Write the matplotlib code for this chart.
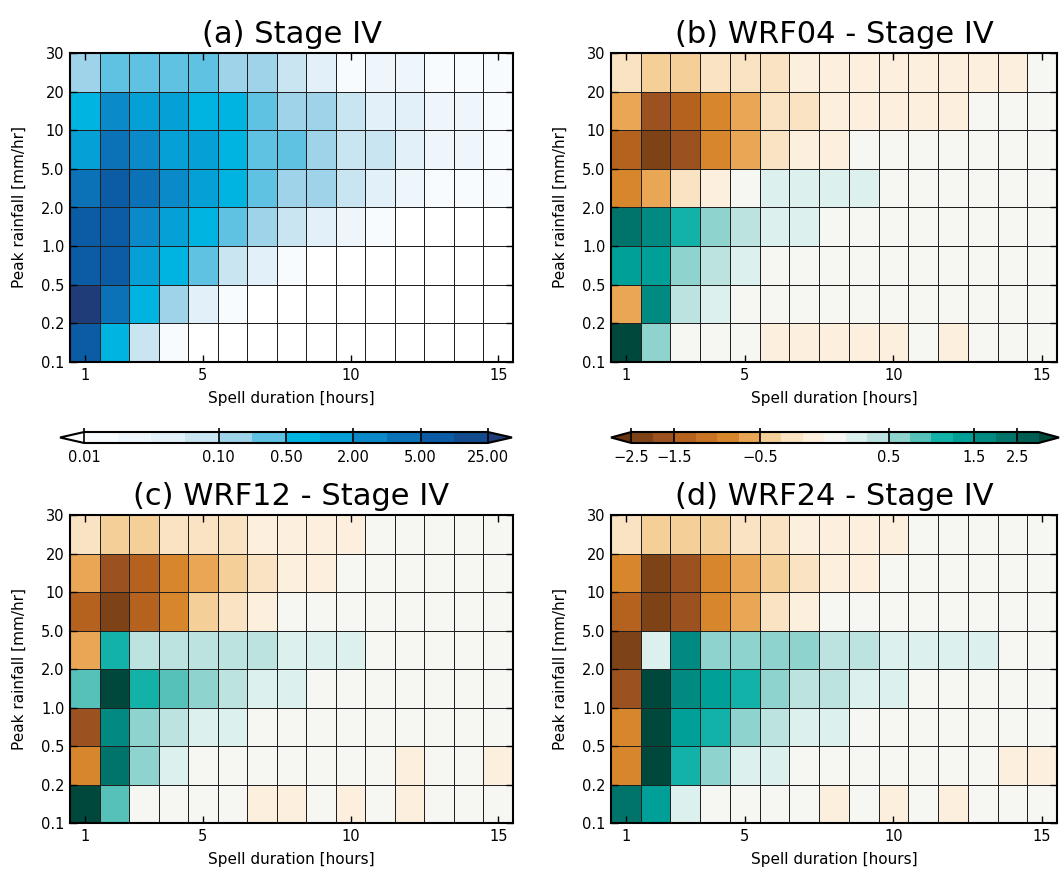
import numpy as np
import matplotlib
matplotlib.use('Agg')
import matplotlib.pyplot as plt
from matplotlib.colors import ListedColormap, BoundaryNorm

durations = np.arange(1, 16)
rain_edges = ['0.1', '0.2', '0.5', '1.0', '2.0', '5.0', '10', '20', '30']

# rows go from top (20-30 mm/hr) down to bottom (0.1-0.2 mm/hr), columns are 1..15 h
stage4 = [
    [0.15, 0.3, 0.3, 0.3, 0.3, 0.15, 0.15, 0.07, 0.04, 0.015, 0.025, 0.025, 0.015, 0.012, 0.012],
    [0.7, 2.5, 1.5, 1.5, 0.7, 0.7, 0.3, 0.15, 0.15, 0.07, 0.04, 0.04, 0.02, 0.02, 0.015],
    [1.5, 4.0, 2.5, 1.5, 1.5, 0.7, 0.3, 0.3, 0.15, 0.07, 0.07, 0.04, 0.02, 0.02, 0.015],
    [4.0, 7.0, 4.0, 2.5, 1.5, 0.7, 0.3, 0.15, 0.15, 0.07, 0.04, 0.025, 0.015, 0.015, 0.012],
    [7.0, 7.0, 2.5, 1.5, 0.7, 0.3, 0.15, 0.07, 0.04, 0.02, 0.012, 0.005, 0.005, 0.005, 0.005],
    [7.0, 7.0, 1.5, 0.7, 0.3, 0.07, 0.04, 0.015, 0.005, 0.005, 0.005, 0.005, 0.005, 0.005, 0.005],
    [30.0, 4.0, 0.7, 0.15, 0.04, 0.015, 0.005, 0.005, 0.005, 0.005, 0.005, 0.005, 0.005, 0.005, 0.005],
    [7.0, 0.7, 0.07, 0.015, 0.005, 0.005, 0.005, 0.005, 0.005, 0.005, 0.005, 0.005, 0.005, 0.005, 0.005],
]

wrf04 = [
    [-0.2, -0.35, -0.35, -0.2, -0.2, -0.2, -0.05, -0.05, -0.05, -0.05, -0.05, -0.05, -0.05, -0.05, 0.05],
    [-0.55, -1.75, -1.4, -0.9, -0.55, -0.2, -0.2, -0.05, -0.05, -0.05, -0.05, -0.05, 0.05, 0.05, 0.05],
    [-1.4, -2.2, -1.75, -0.9, -0.55, -0.2, -0.05, -0.05, 0.05, 0.05, 0.05, 0.05, 0.05, 0.05, 0.05],
    [-1.0, -0.6, -0.2, -0.05, 0.05, 0.2, 0.2, 0.2, 0.2, 0.05, 0.05, 0.05, 0.05, 0.05, 0.05],
    [2.2, 1.7, 1.1, 0.6, 0.4, 0.2, 0.2, 0.05, 0.05, 0.05, 0.05, 0.05, 0.05, 0.05, 0.05],
    [1.4, 1.4, 0.6, 0.4, 0.2, 0.05, 0.05, 0.05, 0.05, 0.05, 0.05, 0.05, 0.05, 0.05, 0.05],
    [-0.6, 1.7, 0.4, 0.2, 0.05, 0.05, 0.05, 0.05, 0.05, 0.05, 0.05, 0.05, 0.05, 0.05, 0.05],
    [3.2, 0.6, 0.05, 0.05, 0.05, -0.05, -0.05, -0.05, -0.05, -0.05, 0.05, -0.05, 0.05, 0.05, 0.05],
]

wrf12 = [
    [-0.15, -0.35, -0.35, -0.2, -0.2, -0.2, -0.05, -0.05, -0.05, -0.05, 0.05, 0.05, 0.05, 0.05, 0.05],
    [-0.55, -1.75, -1.4, -0.9, -0.55, -0.35, -0.2, -0.05, -0.05, 0.05, 0.05, 0.05, 0.05, 0.05, 0.05],
    [-1.4, -2.2, -1.4, -0.9, -0.35, -0.2, -0.05, 0.05, 0.05, 0.05, 0.05, 0.05, 0.05, 0.05, 0.05],
    [-0.6, 1.1, 0.4, 0.4, 0.4, 0.4, 0.4, 0.2, 0.2, 0.2, 0.05, 0.05, 0.05, 0.05, 0.05],
    [0.9, 3.2, 1.1, 0.9, 0.6, 0.4, 0.2, 0.2, 0.05, 0.05, 0.05, 0.05, 0.05, 0.05, 0.05],
    [-1.75, 1.7, 0.6, 0.4, 0.2, 0.2, 0.05, 0.05, 0.05, 0.05, 0.05, 0.05, 0.05, 0.05, 0.05],
    [-1.0, 2.2, 0.6, 0.2, 0.05, 0.05, 0.05, 0.05, 0.05, 0.05, 0.05, -0.05, 0.05, 0.05, -0.05],
    [3.2, 0.9, 0.05, 0.05, 0.05, 0.05, -0.05, -0.05, 0.05, -0.05, 0.05, -0.05, 0.05, 0.05, 0.05],
]

wrf24 = [
    [-0.15, -0.35, -0.35, -0.35, -0.2, -0.2, -0.05, -0.05, -0.05, -0.05, 0.05, 0.05, 0.05, 0.05, 0.05],
    [-0.8, -2.2, -1.75, -0.9, -0.55, -0.35, -0.2, -0.05, -0.05, 0.05, 0.05, 0.05, 0.05, 0.05, 0.05],
    [-1.4, -2.2, -1.75, -0.9, -0.55, -0.2, -0.05, 0.05, 0.05, 0.05, 0.05, 0.05, 0.05, 0.05, 0.05],
    [-2.2, 0.2, 1.7, 0.6, 0.6, 0.6, 0.6, 0.4, 0.4, 0.2, 0.2, 0.2, 0.2, 0.05, 0.05],
    [-1.75, 3.2, 1.7, 1.4, 1.1, 0.6, 0.4, 0.4, 0.2, 0.2, 0.05, 0.05, 0.05, 0.05, 0.05],
    [-1.0, 3.2, 1.4, 1.1, 0.6, 0.4, 0.2, 0.2, 0.05, 0.05, 0.05, 0.05, 0.05, 0.05, 0.05],
    [-1.0, 3.2, 1.1, 0.6, 0.2, 0.2, 0.05, 0.05, 0.05, 0.05, 0.05, 0.05, 0.05, -0.05, -0.05],
    [2.2, 1.4, 0.2, 0.05, 0.05, 0.05, 0.05, -0.05, 0.05, -0.05, 0.05, -0.05, 0.05, 0.05, 0.05],
]

obs_levels = [0.01, 0.02, 0.03, 0.05, 0.1, 0.2, 0.5, 1.0, 2.0, 3.0, 5.0, 10.0, 25.0]
obs_ticks = [0.01, 0.1, 0.5, 2.0, 5.0, 25.0]
diff_levels = [-2.5, -2.0, -1.5, -1.25, -1.0, -0.75, -0.5, -0.3, -0.1, 0.0,
               0.1, 0.3, 0.5, 0.75, 1.0, 1.25, 1.5, 2.0, 2.5, 3.0]
diff_ticks = [-2.5, -1.5, -0.5, 0.5, 1.5, 2.5]

obs_cmap = ListedColormap(['#f8fbfd', '#eef6fb', '#e2f1f9', '#c9e5f2', '#9fd3ea', '#5fc2e3',
                           '#00b4e1', '#05a0d5', '#0a8ac8', '#0b72b8', '#0b5ca4', '#124c8e'])
obs_cmap.set_under('#ffffff')
obs_cmap.set_over('#1f3c78')
obs_norm = BoundaryNorm(obs_levels, obs_cmap.N)

diff_cmap = ListedColormap(['#7d4316', '#9b5220', '#b5621f', '#c97424', '#d8862c', '#e9a654',
                            '#f4cf98', '#f9e3c2', '#fcefdd', '#f6f6f3', '#dcf0ee', '#bde3e0',
                            '#8ed3cd', '#55c1b9', '#12b2a9', '#00a098', '#008a81', '#00746a',
                            '#005e53'])
diff_cmap.set_under('#6a3412')
diff_cmap.set_over('#00483c')
diff_norm = BoundaryNorm(diff_levels, diff_cmap.N)


def draw_panel(ax, data, cmap, norm, title):
    z = np.flipud(np.array(data))
    xe = np.arange(0.5, 16.0, 1.0)
    ye = np.arange(len(rain_edges))
    mesh = ax.pcolormesh(xe, ye, z, cmap=cmap, norm=norm,
                         edgecolors='#202020', linewidth=0.7)
    ax.set_xlim(0.5, 15.5)
    ax.set_ylim(0, 8)
    ax.set_xticks([1, 5, 10, 15])
    ax.set_yticks(ye)
    ax.set_yticklabels(rain_edges)
    ax.tick_params(direction='in', top=True, right=True, length=5, width=1,
                   labelsize=10.5, pad=4)
    for s in ax.spines.values():
        s.set_linewidth(1.5)
    ax.set_xlabel('Spell duration [hours]', fontsize=11, labelpad=6)
    ax.set_ylabel('Peak rainfall [mm/hr]', fontsize=11, labelpad=10)
    ax.set_title(title, fontsize=22, pad=7)
    return mesh


fig = plt.figure(figsize=(10.6, 8.72), dpi=100)

ax_a = fig.add_axes([70/1060, 1-362/872, 443/1060, 309/872])
ax_b = fig.add_axes([611/1060, 1-362/872, 446/1060, 309/872])
ax_c = fig.add_axes([70/1060, 1-823/872, 443/1060, 308/872])
ax_d = fig.add_axes([611/1060, 1-823/872, 446/1060, 308/872])

m_a = draw_panel(ax_a, stage4, obs_cmap, obs_norm, '(a) Stage IV')
m_b = draw_panel(ax_b, wrf04, diff_cmap, diff_norm, '(b) WRF04 - Stage IV')
draw_panel(ax_c, wrf12, diff_cmap, diff_norm, '(c) WRF12 - Stage IV')
draw_panel(ax_d, wrf24, diff_cmap, diff_norm, '(d) WRF24 - Stage IV')

# colorbars between the two rows (cax spans triangle tip to tip)
cax_a = fig.add_axes([60/1060, 1-443/872, 452/1060, 11/872])
cb_a = fig.colorbar(m_a, cax=cax_a, orientation='horizontal', extend='both',
                    extendfrac=0.06)
cb_a.set_ticks(obs_ticks, labels=['%.2f' % t for t in obs_ticks])

cax_b = fig.add_axes([611/1060, 1-443/872, 448/1060, 11/872])
cb_b = fig.colorbar(m_b, cax=cax_b, orientation='horizontal', extend='both',
                    extendfrac=0.05)
cb_b.set_ticks(diff_ticks, labels=[('%.1f' % t).replace('-', '\u2212') for t in diff_ticks])

for cb in (cb_a, cb_b):
    cb.outline.set_linewidth(1.5)
    cb.ax.tick_params(direction='in', length=11, width=1.2, labelsize=10.5, pad=5)
    cb.ax.minorticks_off()

fig.savefig('out.png', dpi=100)
